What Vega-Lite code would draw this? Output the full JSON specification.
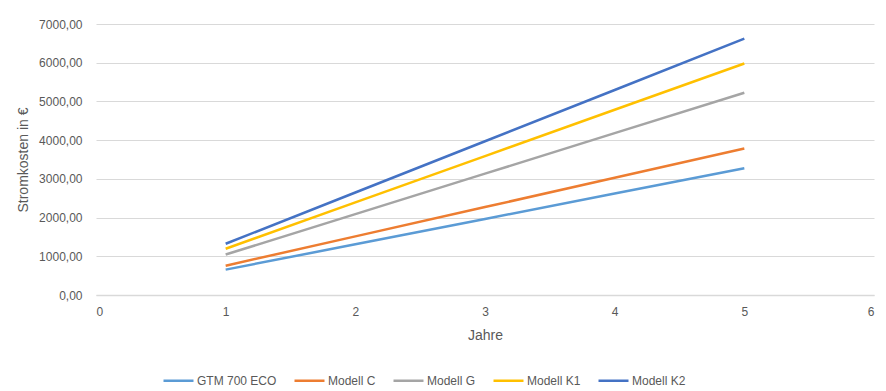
{
  "$schema": "https://vega.github.io/schema/vega-lite/v6.json",
  "autosize": {"type": "none"},
  "width": 778,
  "height": 271,
  "padding": {"left": 96, "top": 24, "right": 12, "bottom": 96},
  "background": "white",
  "config": {
    "view": {"stroke": null},
    "font": "Liberation Sans",
    "axis": {"labelFont": "Liberation Sans", "titleFont": "Liberation Sans", "labelColor": "#595959", "titleColor": "#595959", "labelFontSize": 12, "titleFontSize": 14, "titleFontWeight": "normal"}
  },
  "data": {
    "values": [
      {"Jahre": 1, "Modell": "GTM 700 ECO", "Kosten": 655},
      {"Jahre": 2, "Modell": "GTM 700 ECO", "Kosten": 1310},
      {"Jahre": 3, "Modell": "GTM 700 ECO", "Kosten": 1965},
      {"Jahre": 4, "Modell": "GTM 700 ECO", "Kosten": 2620},
      {"Jahre": 5, "Modell": "GTM 700 ECO", "Kosten": 3275},
      {"Jahre": 1, "Modell": "Modell C", "Kosten": 757},
      {"Jahre": 2, "Modell": "Modell C", "Kosten": 1514},
      {"Jahre": 3, "Modell": "Modell C", "Kosten": 2271},
      {"Jahre": 4, "Modell": "Modell C", "Kosten": 3028},
      {"Jahre": 5, "Modell": "Modell C", "Kosten": 3785},
      {"Jahre": 1, "Modell": "Modell G", "Kosten": 1045},
      {"Jahre": 2, "Modell": "Modell G", "Kosten": 2090},
      {"Jahre": 3, "Modell": "Modell G", "Kosten": 3135},
      {"Jahre": 4, "Modell": "Modell G", "Kosten": 4180},
      {"Jahre": 5, "Modell": "Modell G", "Kosten": 5225},
      {"Jahre": 1, "Modell": "Modell K1", "Kosten": 1196},
      {"Jahre": 2, "Modell": "Modell K1", "Kosten": 2392},
      {"Jahre": 3, "Modell": "Modell K1", "Kosten": 3588},
      {"Jahre": 4, "Modell": "Modell K1", "Kosten": 4784},
      {"Jahre": 5, "Modell": "Modell K1", "Kosten": 5980},
      {"Jahre": 1, "Modell": "Modell K2", "Kosten": 1324},
      {"Jahre": 2, "Modell": "Modell K2", "Kosten": 2648},
      {"Jahre": 3, "Modell": "Modell K2", "Kosten": 3972},
      {"Jahre": 4, "Modell": "Modell K2", "Kosten": 5296},
      {"Jahre": 5, "Modell": "Modell K2", "Kosten": 6620}
    ]
  },
  "mark": {"type": "line", "strokeWidth": 2.5},
  "encoding": {
    "x": {
      "field": "Jahre", "type": "quantitative",
      "scale": {"domain": [0, 6], "nice": false},
      "axis": {"title": "Jahre", "values": [0, 1, 2, 3, 4, 5, 6], "format": "d", "grid": false, "ticks": false, "domainColor": "#d9d9d9", "domainWidth": 1.5, "labelPadding": 11, "titlePadding": 11}
    },
    "y": {
      "field": "Kosten", "type": "quantitative",
      "scale": {"domain": [0, 7000], "nice": false},
      "axis": {"title": "Stromkosten in €", "values": [0, 1000, 2000, 3000, 4000, 5000, 6000, 7000], "labelExpr": "replace(format(datum.value, '.2f'), '.', ',')", "domain": false, "ticks": false, "gridColor": "#d9d9d9", "gridWidth": 1.2, "labelPadding": 14, "titlePadding": 8}
    },
    "color": {
      "field": "Modell", "type": "nominal",
      "scale": {"domain": ["GTM 700 ECO", "Modell C", "Modell G", "Modell K1", "Modell K2"], "range": ["#5B9BD5", "#ED7D31", "#A5A5A5", "#FFC000", "#4472C4"]},
      "legend": {"title": null, "orient": "none", "legendX": 66, "legendY": 340, "direction": "horizontal", "symbolType": "stroke", "symbolSize": 900, "symbolStrokeWidth": 2.5, "labelFontSize": 12, "labelColor": "#595959", "labelOffset": 2, "columnPadding": 12}
    }
  }
}
